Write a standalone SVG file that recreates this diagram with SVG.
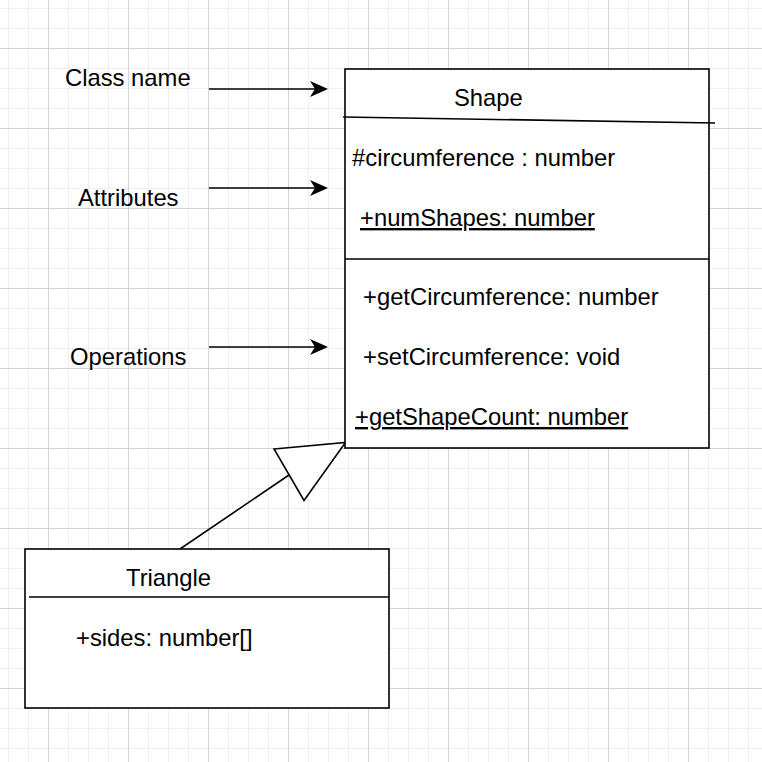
<svg xmlns="http://www.w3.org/2000/svg" width="762" height="762" viewBox="0 0 762 762">
  <style>
    text { font-family: "Liberation Sans", Arial, Helvetica, sans-serif; font-size: 23.8px; fill: #000; }
    .box { fill: #fff; stroke: #000; stroke-width: 1.6; }
    .ln { fill: none; stroke: #000; stroke-width: 1.6; }
    .ul { text-decoration: underline; }
  </style>
  <defs>
    <pattern id="minor" patternUnits="userSpaceOnUse" x="8" y="8" width="20" height="20">
      <path d="M0.5 0 V20 M0 0.5 H20" stroke="#f0f0f0" stroke-width="1" fill="none"/>
    </pattern>
    <pattern id="major" patternUnits="userSpaceOnUse" x="48" y="48" width="80" height="80">
      <path d="M0.5 0 V80 M0 0.5 H80" stroke="#d4d4d4" stroke-width="1" fill="none"/>
    </pattern>
    <marker id="arr" markerUnits="userSpaceOnUse" markerWidth="18" markerHeight="16" refX="10" refY="8" orient="auto" viewBox="0 0 18 16">
      <path d="M0,0 L18,8 L0,16 L5,8 Z" fill="#000"/>
    </marker>
  </defs>
  <rect width="762" height="762" fill="#fff"/>
  <rect width="762" height="762" fill="url(#minor)"/>
  <rect width="762" height="762" fill="url(#major)"/>

  <g id="labels">
    <text x="65" y="86">Class name</text>
    <text x="78" y="206">Attributes</text>
    <text x="70" y="365">Operations</text>
  </g>

  <g id="connectors">
    <line class="ln" x1="209" y1="89" x2="320" y2="89" marker-end="url(#arr)"/>
    <line class="ln" x1="209" y1="188" x2="320" y2="188" marker-end="url(#arr)"/>
    <line class="ln" x1="209" y1="347" x2="320" y2="347" marker-end="url(#arr)"/>
    <line class="ln" x1="180" y1="549" x2="289" y2="475"/>
    <polygon class="box" points="274,449 345.5,442.5 304,500.5"/>
  </g>

  <g id="shape">
    <rect class="box" x="345" y="69" width="364" height="379"/>
    <line class="ln" x1="343" y1="117" x2="715" y2="123"/>
    <line class="ln" x1="345" y1="259" x2="709" y2="259"/>
    <text x="454" y="106">Shape</text>
    <text x="352" y="166">#circumference : number</text>
    <text x="360" y="226" class="ul">+numShapes: number</text>
    <text x="363" y="305">+getCircumference: number</text>
    <text x="363" y="365">+setCircumference: void</text>
    <text x="355" y="425" class="ul">+getShapeCount: number</text>
  </g>

  <g id="triangle">
    <rect class="box" x="25" y="549" width="364" height="159"/>
    <line class="ln" x1="29" y1="597" x2="389" y2="597"/>
    <text x="126" y="586">Triangle</text>
    <text x="76" y="646">+sides: number[]</text>
  </g>
</svg>
